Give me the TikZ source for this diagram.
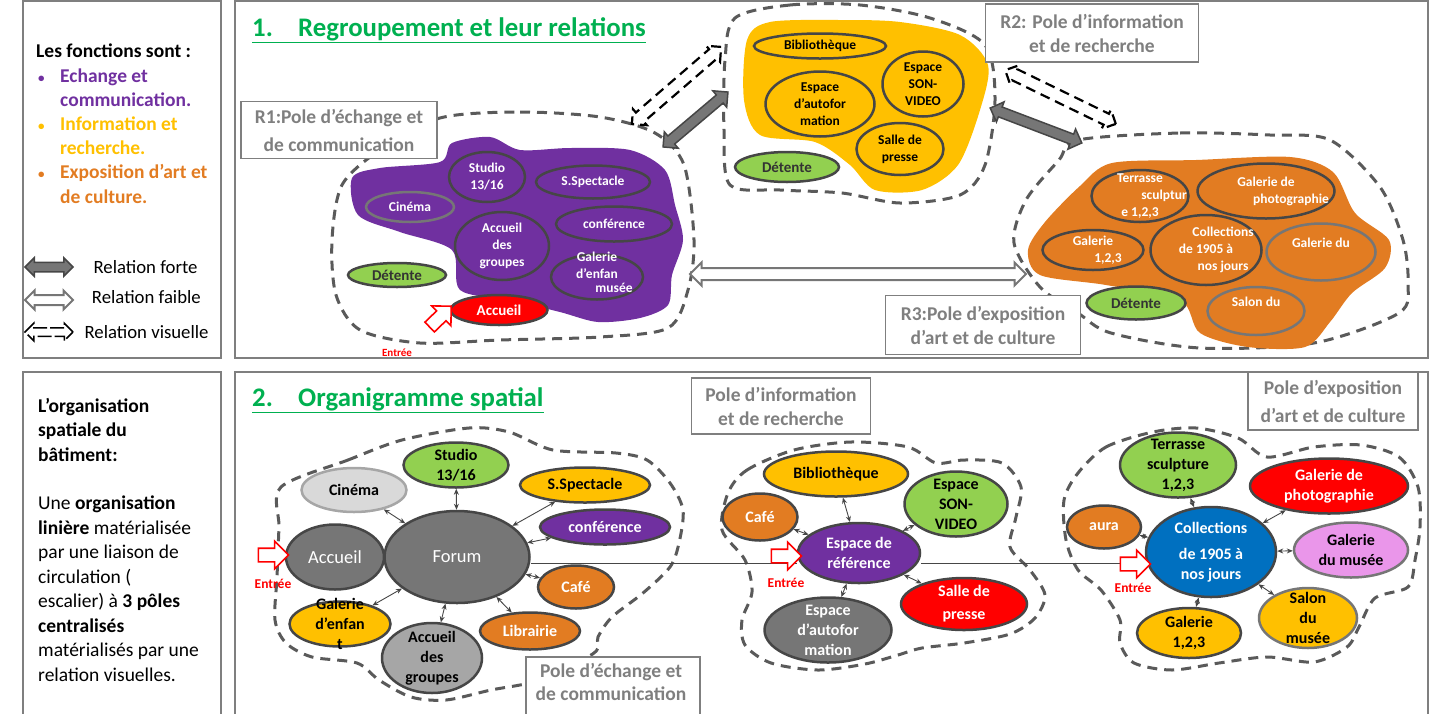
\documentclass[tikz,border=0pt]{standalone}
\usepackage{fontspec}
\setmainfont{Carlito}
\usetikzlibrary{positioning,shapes.geometric,shapes.arrows,arrows.meta}
\definecolor{purp}{RGB}{112,48,160}
\definecolor{gold}{RGB}{255,192,0}
\definecolor{orng}{RGB}{226,124,34}
\definecolor{leaf}{RGB}{146,208,80}
\definecolor{titlegreen}{RGB}{0,176,80}
\definecolor{bluec}{RGB}{0,112,192}
\definecolor{pinkc}{RGB}{234,150,234}
\definecolor{edgec}{RGB}{70,70,70}
\definecolor{darkg}{RGB}{118,118,118}
\definecolor{midg}{RGB}{166,166,166}
\definecolor{lightg}{RGB}{217,217,217}
\definecolor{boxg}{RGB}{127,127,127}
\definecolor{dashg}{RGB}{90,90,90}

\begin{document}
\begin{tikzpicture}[x=1pt,y=-1pt]
    \tikzset{bub/.style={ellipse, draw=edgec, line width=2.5pt, inner sep=0pt}}
    \tikzset{tw/.style={font=\bfseries\fontsize{13.5}{17}\selectfont, align=center, text=white}}
    \tikzset{tk/.style={tw, text=black}}
    \tikzset{bw/.style={font=\bfseries\fontsize{16}{20}\selectfont, align=center, text=white}}
    \tikzset{bk/.style={bw, text=black}}
    \tikzset{pole/.style={draw=dashg, line width=3pt, dash pattern=on 10pt off 7pt}}
    \tikzset{panel/.style={draw=boxg, line width=1.5pt}}
    \tikzset{tag/.style={draw=boxg, line width=1.5pt, fill=white, text=boxg, font=\bfseries\fontsize{19.5}{24}\selectfont, align=center, inner sep=0pt}}
    \tikzset{link/.style={<->, >={Stealth[length=6pt,width=5pt]}, draw=edgec, line width=0.9pt}}
    \tikzset{forte/.style={double arrow, draw=edgec, fill=darkg, line width=1.5pt, inner sep=4.5pt, minimum width=20pt, double arrow head extend=5.5pt}}
    \tikzset{faible/.style={double arrow, draw=darkg, fill=white, line width=2pt, inner sep=5pt, minimum width=21pt, double arrow head extend=5.5pt}}
    \tikzset{visu/.style={double arrow, draw=black, line width=2.2pt, dash pattern=on 10pt off 6pt, inner sep=5pt, minimum width=18pt, double arrow head extend=4.5pt}}
    \tikzset{entree/.style={single arrow, draw=red, fill=white, line width=1.6pt, inner sep=6pt, minimum height=30pt, single arrow head extend=7pt}}
    \tikzset{legend/.style={font=\fontsize{18.75}{22}\selectfont}}

    \useasboundingbox (0,0) rectangle (1434,713);
    \clip (0,0) rectangle (1434,713);

    % panels
    \draw[panel] (23,1) rectangle (221,358);
    \draw[panel] (235,1) rectangle (1428,358);
    \draw[panel] (23,372) rectangle (221,720);
    \draw[panel] (235,372) rectangle (1428,720);

    % left texts
    \node[anchor=north west, align=left, inner sep=0pt, font=\bfseries\fontsize{19.5}{24.2}\selectfont] (fonctions) at (36,44) {Les fonctions sont :\\
      \textcolor{purp}{\hspace*{2pt}\makebox[22pt][l]{\fontsize{13}{13}\selectfont\textbullet}Echange et}\\
      \textcolor{purp}{\hspace*{24pt}communication.}\\
      \textcolor{gold}{\hspace*{2pt}\makebox[22pt][l]{\fontsize{13}{13}\selectfont\textbullet}Information et}\\
      \textcolor{gold}{\hspace*{24pt}recherche.}\\
      \textcolor{orng}{\hspace*{2pt}\makebox[22pt][l]{\fontsize{13}{13}\selectfont\textbullet}Exposition d’art et}\\
      \textcolor{orng}{\hspace*{24pt}de culture.}};
    \node[forte, minimum height=48pt, minimum width=17pt, inner sep=4pt, double arrow head extend=4.5pt] (lforte) at (49,267) {};
    \node[legend, right=16pt of lforte] {Relation forte};
    \node[faible, minimum height=48pt, minimum width=17pt, inner sep=4pt, double arrow head extend=4.5pt] (lfaible) at (49,300) {};
    \node[legend, right=14pt of lfaible, yshift=3pt] {Relation faible};
    \node[visu, minimum height=48pt, minimum width=15pt, inner sep=3.5pt, line width=1.5pt, dash pattern=on 14pt off 3pt] (lvisu) at (49,332) {};
    \node[legend, right=7pt of lvisu] {Relation visuelle};

    \node[anchor=north west, align=left, inner sep=0pt, font=\fontsize{19.5}{24.5}\selectfont] (orgtext) at (38,398) {\textbf{L’organisation}\\
      \textbf{spatiale du}\\
      \textbf{bâtiment:}\\[24pt]
      Une \textbf{organisation}\\
      \textbf{linière} matérialisée\\
      par une liaison de\\
      circulation (\\
      escalier) à \textbf{3 pôles}\\
      \textbf{centralisés}\\
      matérialisés par une\\
      relation visuelles.};

    % titles
    \node[anchor=west, inner sep=0pt, text=titlegreen, font=\bfseries\fontsize{26.8}{30}\selectfont] (title1) at (252,30) {\underline{\makebox[46pt][l]{1.}Regroupement et leur relations}};
    \node[anchor=west, inner sep=0pt, text=titlegreen, font=\bfseries\fontsize{26.8}{30}\selectfont] (title2) at (252,400) {\underline{\makebox[46pt][l]{2.}Organigramme spatial}};

    % 1. regroupements
    \draw[pole] plot[smooth cycle] coordinates {(440,118) (520,112) (600,117) (655,133) (684,165) (694,240) (688,290) (668,328) (600,337) (500,340) (420,343) (360,330) (336,295) (332,240) (342,185) (380,150)};
    \draw[pole] plot[smooth cycle] coordinates {(735,18) (790,5) (860,5) (930,18) (985,45) (995,100) (985,165) (960,195) (900,203) (842,193) (780,190) (730,185) (724,130) (725,60)};
    \draw[pole] plot[smooth cycle] coordinates {(1078,140) (1180,133) (1270,135) (1330,140) (1380,187) (1403,240) (1408,283) (1399,313) (1314,343) (1200,348) (1111,333) (1078,313) (1040,287) (1014,243) (1026,200) (1059,160)};
    \fill[purp] plot[smooth cycle] coordinates {(352,178) (380,168) (440,162) (452,143) (490,137) (520,150) (570,148) (630,150) (665,170) (675,205) (683,240) (672,275) (668,305) (640,318) (598,322) (560,312) (510,300) (460,290) (452,250) (400,232) (358,215)};
    \fill[gold] plot[smooth cycle] coordinates {(747,40) (770,22) (840,20) (900,22) (960,35) (988,65) (980,110) (958,165) (922,190) (875,190) (850,165) (815,142) (760,135) (744,100)};
    \fill[orng] plot[smooth cycle] coordinates {(1028,250) (1045,222) (1080,186) (1112,163) (1196,160) (1290,157) (1333,172) (1355,213) (1389,240) (1385,268) (1352,293) (1330,322) (1305,347) (1248,347) (1200,333) (1180,300) (1106,285) (1040,275)};

    \node[bub, draw=darkg, minimum width=88pt, minimum height=30pt, label={[tw]center:Cinéma}] (tcinema) at (410,207) {};
    \node[bub, minimum width=76pt, minimum height=50pt, label={[tw]center:{Studio\\13/16}}] (tstudio) at (487,177) {};
    \node[bub, minimum width=114pt, minimum height=33pt, label={[tw]center:S.Spectacle}] (tspect) at (593,182) {};
    \node[bub, minimum width=116pt, minimum height=35pt, label={[tw]center:conférence}] (tconf) at (614,224) {};
    \node[bub, minimum width=94pt, minimum height=68pt, label={[tw]center:{Accueil\\des\\groupes}}] (tgroupes) at (502,246) {};
    \node[bub, minimum width=92pt, minimum height=45pt, label={[tw, yshift=5pt]center:{Galerie\\d’enfan\\[-3pt]\hspace*{34pt}musée}}] (tgalenf) at (597,277) {};
    \node[bub, fill=leaf, minimum width=98pt, minimum height=24pt, label={[tk, text=black!80, font=\bfseries\fontsize{15}{17}\selectfont]center:Détente}] (tdetente1) at (397,275) {};
    \node[bub, fill=red, minimum width=97pt, minimum height=30pt, label={[tw, font=\bfseries\fontsize{15}{17}\selectfont]center:Accueil}] (taccueil) at (499,310) {};

    \node[bub, minimum width=132pt, minimum height=25pt, label={[tk]center:Bibliothèque}] (tbiblio) at (820,46) {};
    \node[bub, minimum width=109pt, minimum height=65pt, label={[tk]center:{Espace\\d'autofor\\mation}}] (tautofor) at (820,104) {};
    \node[bub, minimum width=81pt, minimum height=65pt, label={[tk]center:{Espace\\SON-\\VIDEO}}] (tsonvideo) at (923,84) {};
    \node[bub, minimum width=87pt, minimum height=52pt, label={[tk]center:{Salle de\\presse}}] (tpresse) at (900,149) {};
    \node[bub, fill=leaf, minimum width=104pt, minimum height=30pt, label={[tk, text=black!80, font=\bfseries\fontsize{15}{17}\selectfont]center:Détente}] (tdetente2) at (787,167) {};

    \node[bub, minimum width=97pt, minimum height=52pt, label={[tw]center:{Terrasse\\\hspace*{48pt}sculptur\\e 1,2,3}}] (tterrasse) at (1140,196) {};
    \node[bub, minimum width=137pt, minimum height=55pt, label={[tw]center:{Galerie de\\\hspace*{50pt}photographie}}] (tgalphoto) at (1266,191) {};
    \node[bub, minimum width=101pt, minimum height=40pt, label={[tw]center:{Galerie\\\hspace*{30pt}1,2,3}}] (tgalerie) at (1093,250) {};
    \node[bub, minimum width=111pt, minimum height=70pt, label={[tw]center:{\hspace*{34pt}Collections\\de 1905 à\\\hspace*{34pt}nos jours}}] (tcollections) at (1206,250) {};
    \node[bub, draw=darkg, minimum width=109pt, minimum height=57pt, label={[tw, yshift=9pt]center:Galerie du}] (tgaldu) at (1321,252) {};
    \node[bub, draw=darkg, minimum width=97pt, minimum height=48pt, label={[tw, yshift=9pt]center:Salon du}] (tsalon) at (1256,311) {};
    \node[bub, fill=leaf, minimum width=99pt, minimum height=33pt, label={[tk, text=black!80, font=\bfseries\fontsize{15}{17}\selectfont]center:Détente}] (tdetente3) at (1136,303) {};

    \node[tag, minimum width=196pt, minimum height=57pt, font=\bfseries\fontsize{19.5}{28}\selectfont] (r1) at (339,130) {R1:Pole d’échange et\\de communication};
    \node[tag, minimum width=213pt, minimum height=58pt] (r2) at (1092,33) {R2: Pole d’information\\et de recherche};
    \node[tag, minimum width=195pt, minimum height=59pt] (r3) at (983,325) {R3:Pole d’exposition\\d’art et de culture};

    % relations
    \coordinate (v1a) at (632,124);
    \coordinate (v1b) at (721,47);
    \coordinate (f1a) at (663,147);
    \coordinate (f1b) at (728,92);
    \coordinate (v2a) at (1005,70);
    \coordinate (v2b) at (1116,124);
    \coordinate (f2a) at (990,108);
    \coordinate (f2b) at (1082,143);
    \coordinate (w1a) at (690,274);
    \coordinate (w1b) at (1026,274);
    \path (v1a) -- (v1b) node[visu, midway, sloped, minimum height=118pt] (av1) {};
    \path (f1a) -- (f1b) node[forte, midway, sloped, minimum height=85pt] (af1) {};
    \path (v2a) -- (v2b) node[visu, midway, sloped, minimum height=123pt] (av2) {};
    \path (f2a) -- (f2b) node[forte, midway, sloped, minimum height=98pt] (af2) {};
    \path (w1a) -- (w1b) node[faible, midway, minimum height=336pt] (aw1) {};

    \node[entree, rotate=44] (in1) at (438,319) {};
    \node[text=red, font=\bfseries\fontsize{11}{13}\selectfont] (e1) at (397,353) {Entrée};

    % 2. organigramme
    \draw[pole] plot[smooth cycle] coordinates {(281,487) (348,460) (402,440) (469,428) (509,432) (553,450) (616,453) (647,460) (670,483) (683,510) (679,543) (670,567) (643,593) (612,617) (598,637) (594,653) (540,680) (491,690) (446,700) (411,697) (379,680) (357,663) (312,657) (286,643) (275,620) (277,577) (279,527)};
    \draw[pole] plot[smooth cycle] coordinates {(728,493) (747,470) (794,450) (851,442) (908,447) (936,463) (964,460) (1002,463) (1021,487) (1016,517) (1010,547) (1030,570) (1045,595) (1035,618) (1010,634) (964,643) (922,648) (898,655) (865,664) (818,670) (771,663) (745,645) (742,620) (752,592) (745,560) (722,530)};
    \draw[pole] plot[smooth cycle] coordinates {(1078,473) (1106,447) (1153,432) (1196,428) (1238,438) (1267,457) (1314,447) (1361,445) (1399,457) (1418,487) (1420,527) (1415,560) (1408,587) (1375,598) (1359,627) (1347,647) (1314,662) (1267,657) (1219,663) (1172,670) (1134,663) (1120,643) (1120,620) (1101,590) (1078,570) (1066,540) (1064,500)};

    \node[bub, fill=darkg, minimum width=145pt, minimum height=92pt, label={[bw, font=\fontsize{18.5}{20}\selectfont]center:Forum}] (forum) at (457,557) {};
    \node[bub, fill=purp, minimum width=122pt, minimum height=60pt, label={[bw]center:{Espace de\\référence}}] (espref) at (859,553) {};
    \node[bub, fill=bluec, minimum width=130pt, minimum height=90pt, label={[bw]center:{Collections\\[6pt]de 1905 à\\nos jours}}] (collections) at (1211,552) {};
    \draw[edgec, line width=0.9pt] ([yshift=-6pt]forum.east) -- ([yshift=-6pt]forum.east -| espref.west);
    \draw[edgec, line width=0.9pt] ([yshift=-6pt]forum.east -| espref.east) -- ([yshift=-6pt]forum.east -| collections.west);

    \node[bub, fill=lightg, draw=midg, minimum width=105pt, minimum height=44pt, label={[bk]center:Cinéma}] (cinema) at (354,490) {};
    \node[bub, fill=leaf, minimum width=105pt, minimum height=45pt, label={[bk]center:{Studio\\13/16}}] (studio) at (456,465) {};
    \node[bub, fill=gold, minimum width=130pt, minimum height=35pt, label={[bk]center:S.Spectacle}] (spectacle) at (585,485) {};
    \node[bub, fill=purp, minimum width=130pt, minimum height=35pt, label={[bw]center:conférence}] (conf) at (605,527) {};
    \node[bub, fill=darkg, minimum width=98pt, minimum height=65pt, label={[bw, font=\fontsize{18.5}{20}\selectfont]center:Accueil}] (accueil) at (335,557) {};
    \node[bub, fill=orng, minimum width=76pt, minimum height=43pt, label={[bw]center:Café}] (cafe) at (576,587) {};
    \node[bub, fill=orng, minimum width=100pt, minimum height=37pt, label={[bw]center:Librairie}] (librairie) at (530,631) {};
    \node[bub, fill=midg, minimum width=100pt, minimum height=70pt, label={[bk]center:{Accueil\\des\\groupes}}] (groupes) at (432,658) {};
    \node[bub, fill=gold, minimum width=101pt, minimum height=45pt, label={[bk]center:{Galerie\\d’enfan\\t}}] (galenf) at (340,624) {};
    \draw[link] (forum) -- (cinema);
    \draw[link] (forum) -- (studio);
    \draw[link] (forum) -- (spectacle);
    \draw[link] (forum) -- (conf);
    \draw[link] (forum) -- (cafe);
    \draw[link] (forum) -- (librairie);
    \draw[link] (forum) -- (groupes);
    \draw[link] (forum) -- (galenf);

    \node[bub, fill=gold, minimum width=144pt, minimum height=45pt, label={[bk]center:Bibliothèque}] (biblio) at (836,474) {};
    \node[bub, fill=orng, minimum width=75pt, minimum height=47pt, label={[bw]center:Café}] (cafeb) at (760,517) {};
    \node[bub, fill=leaf, minimum width=103pt, minimum height=65pt, label={[bk]center:{Espace\\SON-\\VIDEO}}] (sonvideo) at (956,504) {};
    \node[bub, fill=red, minimum width=126pt, minimum height=52pt, label={[bw, font=\bfseries\fontsize{16}{23}\selectfont]center:{Salle de\\presse}}] (presse) at (964,604) {};
    \node[bub, fill=darkg, minimum width=127pt, minimum height=65pt, label={[bw]center:{Espace\\d'autofor\\mation}}] (autofor) at (828,630) {};
    \draw[link] (espref) -- (biblio);
    \draw[link] (espref) -- (cafeb);
    \draw[link] (espref) -- (sonvideo);
    \draw[link] (espref) -- (presse);
    \draw[link] (espref) -- (autofor);

    \node[bub, fill=leaf, minimum width=116pt, minimum height=65pt, label={[bk]center:{Terrasse\\sculpture\\1,2,3}}] (terrasse) at (1178,465) {};
    \node[bub, fill=red, minimum width=158pt, minimum height=55pt, label={[bw]center:{Galerie de\\photographie}}] (galphoto) at (1329,486) {};
    \node[bub, fill=orng, minimum width=74pt, minimum height=43pt, label={[bw]center:aura}] (aura) at (1104,527) {};
    \node[bub, fill=pinkc, draw=darkg, minimum width=114pt, minimum height=55pt, label={[bk]center:{Galerie\\du musée}}] (galmusee) at (1351,550) {};
    \node[bub, fill=gold, draw=darkg, minimum width=98pt, minimum height=60pt, label={[bk]center:{Salon\\du\\musée}}] (salon) at (1308,618) {};
    \node[bub, fill=gold, minimum width=104pt, minimum height=50pt, label={[bk]center:{Galerie\\1,2,3}}] (galerie) at (1189,633) {};
    \draw[link] (collections) -- (terrasse);
    \draw[link] (collections) -- (galphoto);
    \draw[link] (collections) -- (aura);
    \draw[link] (collections) -- (galmusee);
    \draw[link] (collections) -- (salon);
    \draw[link] (collections) -- (galerie);

    \node[entree] (in2) at (270,555) {};
    \node[text=red, font=\bfseries\fontsize{13.5}{15}\selectfont] (e2) at (273,584) {Entrée};
    \node[entree] (in3) at (783,556) {};
    \node[text=red, font=\bfseries\fontsize{13.5}{15}\selectfont] (e3) at (786,583) {Entrée};
    \node[entree] (in4) at (1132,564) {};
    \node[text=red, font=\bfseries\fontsize{13.5}{15}\selectfont] (e4) at (1133,588) {Entrée};

    \node[tag, minimum width=179pt, minimum height=56pt] (pinfo) at (781,406) {Pole d’information\\et de recherche};
    \node[tag, minimum width=170pt, minimum height=58pt, font=\bfseries\fontsize{19.5}{28}\selectfont] (pexpo) at (1333,401) {Pole d’exposition\\d’art et de culture};
    \node[tag, minimum width=174pt, minimum height=62pt, anchor=north west] (pechange) at (525,656) {};
    \node[text=boxg, font=\bfseries\fontsize{19.5}{23}\selectfont, align=center] at (611,682) {Pole d’échange et\\de communication};
\end{tikzpicture}
\end{document}
